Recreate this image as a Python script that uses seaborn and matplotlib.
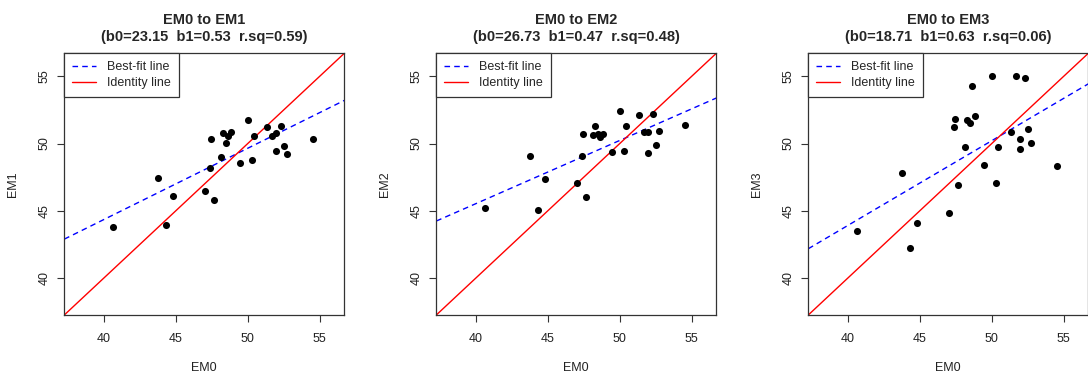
import numpy as np
import pandas as pd
import matplotlib
matplotlib.use("Agg")
import matplotlib.pyplot as plt
import seaborn as sns

sns.set_theme(style="ticks")
plt.rcParams['font.family'] = ['Liberation Sans', 'DejaVu Sans']

# EM0 is shared by all three panels
em0 = [40.62, 43.79, 44.32, 44.83, 47.05, 47.37, 47.42, 47.63, 48.11, 48.25,
       48.48, 48.60, 48.85, 49.45, 50.01, 50.28, 50.42, 51.35, 51.67, 51.95,
       51.95, 52.32, 52.50, 52.73, 54.51]
em1 = [43.82, 47.41, 43.92, 46.10, 46.50, 48.18, 50.31, 45.80, 48.97, 50.76,
       50.07, 50.54, 50.88, 48.55, 51.75, 48.80, 50.59, 51.21, 50.54, 50.76,
       49.47, 51.28, 49.79, 49.25, 50.34]
em2 = [45.18, 49.05, 45.03, 47.34, 47.07, 49.05, 50.69, 46.05, 50.64, 51.28,
       50.74, 50.46, 50.74, 49.40, 52.40, 49.45, 51.28, 52.12, 50.88, 50.83,
       49.30, 52.20, 49.92, 50.93, 51.36]
em3 = [43.52, 47.83, 42.28, 44.07, 44.81, 51.23, 51.80, 46.92, 49.72, 51.78,
       51.53, 54.28, 52.02, 48.38, 55.02, 47.09, 49.72, 50.88, 55.05, 50.31,
       49.62, 54.90, 51.11, 50.02, 48.35]

targets = ["EM1", "EM2", "EM3"]
b0 = [23.15, 26.73, 18.71]
b1 = [0.53, 0.47, 0.63]
rsq = [0.59, 0.48, 0.06]
ticks = [40, 45, 50, 55]
lims = (37.27, 56.7)

df = pd.DataFrame({"EM0": em0, "EM1": em1, "EM2": em2, "EM3": em3})

fig = plt.figure(figsize=(10.88, 3.74), dpi=100)
lefts = [64.3, 436.3, 808.3]
W, H = 1088, 374

for i, name in enumerate(targets):
    ax = fig.add_axes([lefts[i] / W, (374 - 315) / H, 280 / W, 261.7 / H])
    sns.scatterplot(data=df, x="EM0", y=name, ax=ax, color="black", s=26,
                    edgecolor="black", linewidth=0, zorder=3)
    ax.axline((0, b0[i]), slope=b1[i], color="blue", lw=1.0, ls=(0, (4, 3)),
              label="Best-fit line")
    ax.axline((0, 0), slope=1, color="red", lw=1.0, label="Identity line")
    ax.set_xlim(*lims)
    ax.set_ylim(*lims)
    ax.set_xticks(ticks)
    ax.set_yticks(ticks)
    ax.tick_params(axis="both", bottom=True, left=True, length=5, width=0.8,
                   color="#333333", labelsize=9, labelcolor="#222222",
                   direction="out", pad=5)
    ax.tick_params(axis="x", pad=8)
    ax.tick_params(axis="y", labelrotation=90)
    for lab in ax.get_yticklabels():
        lab.set_va("center")
    for sp in ax.spines.values():
        sp.set_color("#333333")
        sp.set_linewidth(0.9)
    ax.set_xlabel("EM0", fontsize=9, labelpad=12, color="#222222")
    ax.set_ylabel(name, fontsize=9, labelpad=14, color="#222222")
    ax.set_title(f"EM0 to {name}\n(b0={b0[i]:.2f}  b1={b1[i]:.2f}  r.sq={rsq[i]:.2f})",
                 fontsize=10.5, fontweight="bold", pad=9, linespacing=1.25)
    leg = ax.legend(loc="upper left", borderaxespad=0, fancybox=False,
                    edgecolor="#333333", fontsize=9, handlelength=1.9,
                    handletextpad=0.9, labelspacing=0.3, borderpad=0.65,
                    framealpha=1)
    leg.get_frame().set_linewidth(0.9)

fig.savefig("out.png", dpi=100)
